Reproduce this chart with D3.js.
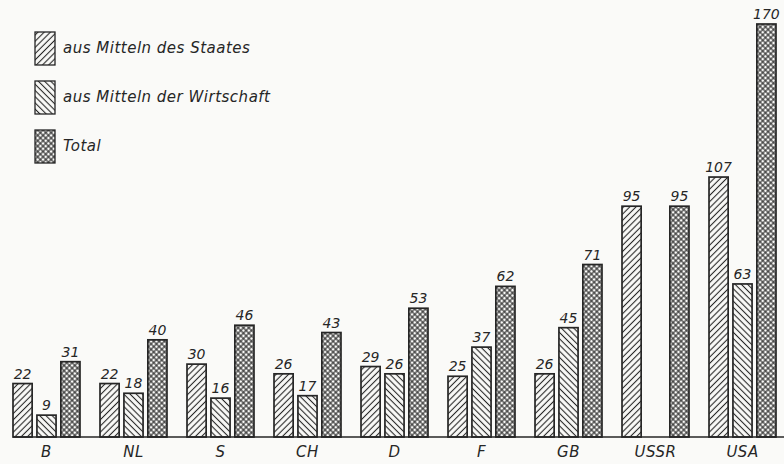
<!DOCTYPE html>
<html>
<head>
<meta charset="utf-8">
<script src="https://cdn.jsdelivr.net/npm/d3@7"></script>
<style>
  body { margin: 0; background: #fafaf8; }
  text { font-family: "DejaVu Sans", sans-serif; font-style: italic; fill: #262626; }
</style>
</head>
<body>
<div id="chart"></div>
<script>
// data
var countries = ["B", "NL", "S", "CH", "D", "F", "GB", "USSR", "USA"];
var staat = [22, 22, 30, 26, 29, 25, 26, 95, 107];
var wirtschaft = [9, 18, 16, 17, 26, 37, 45, null, 63];
var total = [31, 40, 46, 43, 53, 62, 71, 95, 170];
var seriesNames = ["aus Mitteln des Staates", "aus Mitteln der Wirtschaft", "Total"];

var svgWidth = 784;
var svgHeight = 464;
var ink = "#262626";
var paper = "#fafaf8";

var svg = d3.select("#chart")
    .append("svg")
    .attr("width", svgWidth)
    .attr("height", svgHeight);

// hatch patterns
var defs = svg.append("defs");

function hatch(id, angle, gap) {
    var p = defs.append("pattern")
        .attr("id", id)
        .attr("patternUnits", "userSpaceOnUse")
        .attr("width", gap)
        .attr("height", gap)
        .attr("patternTransform", `rotate(${angle})`);
    p.append("rect").attr("width", gap).attr("height", gap).attr("fill", paper);
    p.append("line")
        .attr("x1", gap / 2).attr("y1", 0)
        .attr("x2", gap / 2).attr("y2", gap)
        .attr("stroke", ink)
        .attr("stroke-width", 1.1);
}
hatch("h-staat", 45, 4.4);
hatch("h-wirt", -45, 4.4);

var cross = defs.append("pattern")
    .attr("id", "h-total")
    .attr("patternUnits", "userSpaceOnUse")
    .attr("width", 3.8)
    .attr("height", 3.8)
    .attr("patternTransform", "rotate(45)");
cross.append("rect").attr("width", 3.8).attr("height", 3.8).attr("fill", paper);
cross.append("line").attr("x1", 1.9).attr("y1", 0).attr("x2", 1.9).attr("y2", 3.8)
    .attr("stroke", ink).attr("stroke-width", 1.1);
cross.append("line").attr("x1", 0).attr("y1", 1.9).attr("x2", 3.8).attr("y2", 1.9)
    .attr("stroke", ink).attr("stroke-width", 1.1);

var fills = ["url(#h-staat)", "url(#h-wirt)", "url(#h-total)"];

// rows for the grouped bars
var rows = countries.map(function (c, i) {
    return { country: c, values: [staat[i], wirtschaft[i], total[i]] };
});

// scales
var baseline = 437;
var x0 = d3.scaleBand()
    .domain(countries)
    .range([13, 776])
    .paddingInner(0.23)
    .paddingOuter(0);

var x1 = d3.scaleBand()
    .domain([0, 1, 2])
    .range([0, x0.bandwidth()])
    .paddingInner(0.2);

var y = d3.scaleLinear()
    .domain([0, 170])
    .range([baseline, 24]);

// bars
var groups = svg.selectAll(".group")
    .data(rows)
    .enter()
    .append("g")
    .attr("class", "group")
    .attr("transform", d => `translate(${x0(d.country)}, 0)`);

var bars = groups.selectAll("g.bar")
    .data(d => d.values.map((v, k) => ({ k: k, v: v })).filter(e => e.v != null))
    .enter()
    .append("g")
    .attr("class", "bar");

bars.append("rect")
    .attr("x", d => x1(d.k))
    .attr("y", d => y(d.v))
    .attr("width", x1.bandwidth())
    .attr("height", d => baseline - y(d.v))
    .attr("fill", d => fills[d.k])
    .attr("stroke", ink)
    .attr("stroke-width", 1.7);

bars.append("text")
    .attr("x", d => x1(d.k) + x1.bandwidth() / 2)
    .attr("y", d => y(d.v) - 5)
    .attr("text-anchor", "middle")
    .style("font-size", "14px")
    .text(d => d.v);

// baseline
svg.append("line")
    .attr("x1", 13)
    .attr("x2", svgWidth)
    .attr("y1", baseline)
    .attr("y2", baseline)
    .attr("stroke", ink)
    .attr("stroke-width", 1.4);

// country labels
var xAxis = d3.axisBottom(x0).tickSize(0).tickPadding(9);
var axisG = svg.append("g")
    .attr("transform", `translate(0, ${baseline})`)
    .call(xAxis);
axisG.select(".domain").remove();
axisG.selectAll("text")
    .style("font-size", "15px")
    .style("font-family", "DejaVu Sans, sans-serif")
    .style("letter-spacing", "0.5px")
    .attr("fill", ink);

// legend
var legend = svg.selectAll(".legend")
    .data(seriesNames)
    .enter()
    .append("g")
    .attr("class", "legend")
    .attr("transform", (d, i) => `translate(35, ${32 + i * 49})`);

legend.append("rect")
    .attr("width", 20)
    .attr("height", 33)
    .attr("fill", (d, i) => fills[i])
    .attr("stroke", ink)
    .attr("stroke-width", 1.3);

legend.append("text")
    .attr("x", 28)
    .attr("y", 21)
    .style("font-size", "15px")
    .style("letter-spacing", "0.5px")
    .text(d => d);
</script>
</body>
</html>
